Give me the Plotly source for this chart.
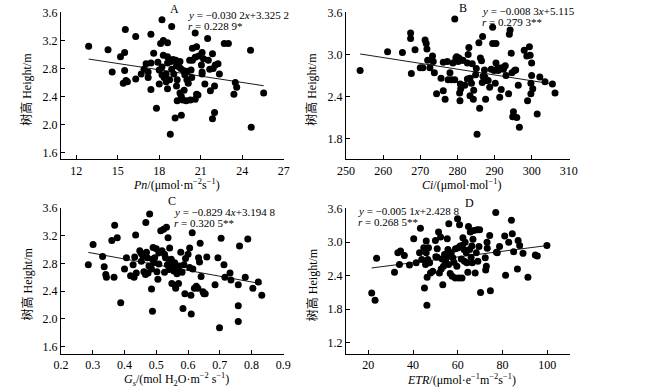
import plotly.graph_objects as go

# ---------------- data ----------------
pn_x = [12.9,14.3,14.6,15.2,15.5,15.55,15.5,15.6,15.4,15.7,16.3,16.3,16.7,16.9,17.05,17.2,17.2,17.4,17.4,17.4,
        17.6,17.8,17.9,18.0,18.0,18.1,18.2,18.2,18.2,18.3,18.3,18.35,18.5,18.6,18.6,18.5,18.6,18.6,18.75,18.8,
        18.85,18.9,18.9,19.0,19.05,19.15,19.2,19.25,19.3,19.3,19.4,19.5,19.5,19.6,19.6,19.7,19.8,19.85,20.0,19.95,
        20.05,20.1,20.2,20.25,20.3,20.35,20.4,20.4,20.6,20.6,20.7,20.6,20.7,20.8,20.85,21.05,21.1,21.1,21.1,21.2,
        21.3,21.5,21.55,21.65,21.7,21.85,21.85,22.0,22.0,21.9,22.05,22.25,22.35,22.7,23.0,23.5,23.6,23.4,24.6,24.65,
        25.55,19.25,19.55,19.75]
pn_y = [3.12,3.07,2.75,2.97,3.03,3.36,2.77,2.63,2.59,2.61,3.26,2.65,2.72,2.79,2.87,2.75,2.67,3.29,2.88,2.50,
        3.02,2.23,2.89,2.78,2.58,3.16,3.50,2.82,2.71,3.20,2.99,2.67,2.61,2.97,3.17,2.72,2.51,2.88,2.64,1.86,
        2.90,3.40,2.79,2.93,2.72,2.09,2.92,2.55,2.34,2.64,2.83,2.90,2.45,2.13,2.40,2.35,2.49,2.71,2.64,2.34,
        2.76,2.59,2.92,2.35,2.78,2.67,2.92,3.09,3.31,2.36,2.43,2.96,3.11,2.42,2.98,2.85,3.03,2.75,2.72,2.94,
        2.58,3.23,2.92,2.79,2.48,3.01,2.08,2.17,2.55,2.80,2.85,2.87,2.72,3.16,3.16,2.60,2.53,2.43,3.06,1.96,
        2.45,2.84,2.80,2.77]

ci_x = [253.8,261.2,265.2,267.4,267.4,267.6,268.6,270.0,270.7,271.3,271.6,271.8,272.0,272.6,273.3,273.5,273.8,274.4,275.6,276.2,
        276.2,276.7,277.3,277.5,278.0,278.4,278.8,279.3,279.3,279.8,280.2,280.4,280.6,280.7,280.8,281.2,281.5,282.0,282.7,282.7,
        282.9,283.1,283.4,283.4,283.8,284.0,284.3,284.4,284.9,285.1,285.3,285.8,286.0,286.2,286.5,286.7,286.8,286.9,287.3,287.4,
        287.6,287.7,288.3,288.7,289.1,289.5,289.5,289.9,290.2,290.4,290.4,290.9,291.0,291.4,291.8,292.0,292.4,292.9,293.1,293.8,
        294.0,294.2,294.5,294.7,294.9,295.1,295.4,295.7,296.0,296.4,296.7,298.0,298.7,298.9,299.4,299.6,299.8,299.8,300.0,300.0,
        300.3,301.5,302.2,303.6,305.6,306.3,279.6,280.9]
ci_y = [2.77,3.04,3.03,3.31,3.23,2.73,3.07,2.81,2.81,3.21,3.16,3.08,2.92,2.81,2.98,2.90,2.74,2.44,2.66,2.89,
        2.48,2.36,2.90,2.64,2.74,2.64,2.88,3.51,2.64,2.97,2.90,2.95,2.45,2.34,2.58,2.92,2.92,2.56,2.88,2.65,
        3.00,3.10,2.66,2.41,2.59,2.87,2.36,2.49,2.71,2.80,1.86,3.17,2.23,2.95,2.91,2.60,3.26,2.69,2.78,2.68,
        2.36,2.63,2.63,2.53,2.79,3.39,3.16,2.77,2.59,3.16,2.88,2.81,2.77,2.39,2.50,2.81,2.79,2.84,2.70,2.44,
        3.29,3.35,3.02,2.74,2.11,2.18,2.77,2.78,2.10,2.56,1.96,3.06,2.98,2.34,3.11,2.99,2.44,2.59,2.88,2.70,
        2.51,2.15,2.68,2.61,2.58,2.45,2.95,2.51]

gs_x = [0.286,0.301,0.331,0.336,0.341,0.343,0.360,0.369,0.367,0.377,0.388,0.400,0.406,0.419,0.427,0.430,0.432,0.435,0.437,0.448,
        0.453,0.453,0.458,0.461,0.466,0.467,0.469,0.472,0.474,0.479,0.477,0.485,0.485,0.488,0.490,0.492,0.495,0.488,0.500,0.502,
        0.505,0.508,0.508,0.514,0.518,0.523,0.526,0.526,0.532,0.529,0.535,0.537,0.540,0.542,0.542,0.547,0.549,0.553,0.555,0.558,
        0.560,0.561,0.565,0.568,0.570,0.573,0.577,0.581,0.584,0.587,0.590,0.592,0.600,0.605,0.605,0.609,0.610,0.613,0.615,0.620,
        0.626,0.631,0.633,0.636,0.638,0.641,0.647,0.650,0.654,0.659,0.685,0.694,0.699,0.704,0.713,0.716,0.732,0.735,0.758,0.758,
        0.758,0.762,0.780,0.788,0.804,0.821,0.832]
gs_y = [2.78,3.07,2.90,2.75,2.64,2.60,3.13,3.35,2.60,3.17,2.23,2.72,2.88,2.62,2.78,2.60,2.89,3.21,2.66,2.98,
        2.94,2.83,2.91,2.68,2.64,3.39,2.96,2.88,2.66,3.51,2.76,2.72,2.43,2.86,3.03,2.81,2.88,2.11,3.01,2.68,
        2.57,2.95,2.79,3.27,2.98,3.29,2.93,2.67,3.32,2.88,2.78,3.17,2.71,3.02,2.81,2.86,2.51,2.74,2.69,2.81,
        2.48,2.44,2.65,2.70,2.51,2.76,2.96,2.67,2.15,2.78,2.36,2.87,2.93,3.02,2.74,2.34,2.07,3.24,2.72,2.44,
        2.47,2.44,2.88,2.82,3.09,2.61,2.39,2.36,2.36,2.89,2.49,2.88,1.87,3.16,2.78,2.60,2.66,2.56,2.49,2.19,
        1.96,3.05,2.60,3.15,2.44,2.53,2.34]

etr_x = [21.5,23.0,23.7,31.7,33.2,33.9,34.4,36.1,38.4,40.3,41.4,42.9,43.3,43.9,44.8,45.1,45.6,45.9,45.9,46.2,
         46.3,46.6,46.9,47.4,47.8,48.8,50.0,50.8,50.8,51.4,51.8,52.3,52.6,53.0,53.3,53.6,54.1,54.5,54.8,55.3,
         55.6,55.9,56.0,56.3,56.6,57.1,57.5,57.8,58.3,58.9,59.0,59.6,59.9,60.2,60.5,60.8,61.1,61.6,61.9,62.0,
         62.3,62.8,63.0,63.3,63.8,64.1,64.5,64.8,65.3,65.6,66.0,66.3,66.5,66.8,67.2,67.8,68.3,68.7,69.0,69.5,
         69.8,70.2,72.3,72.5,72.8,73.1,73.2,74.3,74.6,77.0,77.3,77.7,78.7,81.0,81.4,82.8,84.0,84.4,85.0,86.7,
         87.0,87.7,89.2,91.4,94.7,95.6,99.9,50.2]
etr_y = [2.09,1.96,2.71,2.46,2.81,2.60,2.84,2.76,2.59,3.06,2.63,2.81,3.25,2.69,2.90,2.18,2.60,3.02,2.81,1.87,
         2.37,2.69,2.90,2.63,2.45,2.48,3.03,2.88,2.73,3.18,2.45,3.09,2.52,2.70,2.24,2.57,2.78,2.66,2.72,3.06,
         2.87,2.60,3.33,2.75,2.44,2.81,2.39,2.72,2.64,2.36,2.88,2.57,3.42,2.90,2.36,3.31,2.93,2.70,2.36,2.94,
         3.08,2.87,2.66,3.00,2.81,2.63,2.46,3.28,2.87,3.18,2.73,2.93,2.63,3.05,3.21,2.45,2.81,3.22,2.66,2.92,
         3.22,2.10,2.72,2.50,2.57,3.00,2.89,3.12,2.13,3.53,2.82,2.81,2.92,3.11,2.41,3.00,3.39,3.15,2.83,2.52,
         3.03,2.94,2.80,2.37,2.77,2.75,2.94,2.74]

# regression (slope, intercept) as drawn
fit_a = (-0.0302, 3.3252)
fit_b = (-0.0083, 5.115)
fit_c = (-0.8294, 3.1948)
fit_d = (0.0051, 2.4288)

eq_a = ["<i>y</i> = −0.030 2<i>x</i>+3.325 2", "<i>r</i> = 0.228 9*"]
eq_b = ["<i>y</i> = −0.008 3<i>x</i>+5.115", "<i>r</i> = 0.279 3**"]
eq_c = ["<i>y</i> = −0.829 4<i>x</i>+3.194 8", "<i>r</i> = 0.320 5**"]
eq_d = ["<i>y</i> = −0.005 1<i>x</i>+2.428 8", "<i>r</i> = 0.268 5**"]

xtitle = ["<i>Pn</i>/(μmol·m<sup>−2</sup>s<sup>−1</sup>)",
          "<i>Ci</i>/(μmol·mol<sup>−1</sup>)",
          "<i>G</i><sub><i>s</i></sub>/(mol H<sub>2</sub>O·m<sup>−2</sup> s<sup>−1</sup>)",
          "<i>ETR</i>/(μmol·e<sup>−1</sup>m<sup>−2</sup>s<sup>−1</sup>)"]
ytitle = "树高 Height/m"
letters = ["A", "B", "C", "D"]

# ---------------- figure ----------------
W, H = 672, 392
FONT = "Liberation Serif, Times New Roman, Noto Sans CJK SC, serif"

def px(x): return x / W
def py(y): return 1 - y / H

panels = [
    dict(x=pn_x, y=pn_y, fit=fit_a, eq=eq_a, xd=(61, 284), yd=(12.3, 159.3),
         xr=[10.9, 27.02], xt=[12, 15, 18, 21, 24, 27], xf=".0f",
         yr=[1.5, 3.605], yt=[1.6, 2.0, 2.4, 2.8, 3.2, 3.6],
         eqpos=(186, 15), letpos=(174, 9)),
    dict(x=ci_x, y=ci_y, fit=fit_b, eq=eq_b, xd=(346, 569.5), yd=(12.3, 159.3),
         xr=[250, 310.2], xt=[250, 260, 270, 280, 290, 300, 310], xf=".0f",
         yr=[1.5, 3.605], yt=[1.8, 2.4, 3.0, 3.6],
         eqpos=(480, 11), letpos=(463, 8)),
    dict(x=gs_x, y=gs_y, fit=fit_c, eq=eq_c, xd=(61, 284), yd=(207.5, 353.5),
         xr=[0.2, 0.902], xt=[0.2, 0.3, 0.4, 0.5, 0.6, 0.7, 0.8, 0.9], xf=".1f",
         yr=[1.5, 3.605], yt=[1.6, 2.0, 2.4, 2.8, 3.2, 3.6],
         eqpos=(172, 212), letpos=(172, 201)),
    dict(x=etr_x, y=etr_y, fit=fit_d, eq=eq_d, xd=(346, 569.5), yd=(208.3, 354),
         xr=[10, 110], xt=[20, 40, 60, 80, 100], xf=".0f",
         yr=[1.0, 3.605], yt=[1.2, 1.8, 2.4, 3.0, 3.6],
         eqpos=(356, 211), letpos=(469, 203)),
]

fig = go.Figure()
annotations = []
layout = {}
for i, p in enumerate(panels):
    n = "" if i == 0 else str(i + 1)
    xa, ya = "x" + n, "y" + n
    fig.add_trace(go.Scatter(x=p["x"], y=p["y"], mode="markers", xaxis=xa, yaxis=ya,
                             marker=dict(color="black", size=7), showlegend=False,
                             hoverinfo="skip"))
    a, b = p["fit"]
    x0, x1 = min(p["x"]), max(p["x"])
    fig.add_trace(go.Scatter(x=[x0, x1], y=[a * x0 + b, a * x1 + b], mode="lines",
                             xaxis=xa, yaxis=ya, line=dict(color="black", width=0.9),
                             showlegend=False, hoverinfo="skip"))
    common = dict(showline=True, linecolor="black", linewidth=1, ticks="inside",
                  ticklen=4, tickcolor="black", tickwidth=1, showgrid=False,
                  zeroline=False, mirror=False, automargin=False,
                  tickfont=dict(family=FONT, size=12, color="black"))
    layout["xaxis" + n] = dict(common, domain=[px(p["xd"][0]), px(p["xd"][1])],
                               range=p["xr"], tickmode="array", tickvals=p["xt"],
                               tickformat=p["xf"], anchor=ya)
    layout["yaxis" + n] = dict(common, domain=[py(p["yd"][1]), py(p["yd"][0])],
                               range=p["yr"], tickmode="array", tickvals=p["yt"],
                               tickformat=".1f", anchor=xa)
    # equation text
    ex, ey = p["eqpos"]
    for k, line in enumerate(p["eq"]):
        annotations.append(dict(text=line, x=px(ex), y=py(ey + 11 * k), xref="paper",
                                yref="paper", xanchor="left", yanchor="middle",
                                showarrow=False, font=dict(family=FONT, size=11, color="black")))
    lx, ly = p["letpos"]
    annotations.append(dict(text=letters[i], x=px(lx), y=py(ly), xref="paper", yref="paper",
                            xanchor="center", yanchor="middle", showarrow=False,
                            font=dict(family=FONT, size=12, color="black")))
    # x title
    xc = (p["xd"][0] + p["xd"][1]) / 2 + 4
    xty = 185 if i < 2 else 379
    annotations.append(dict(text=xtitle[i], x=px(xc), y=py(xty), xref="paper", yref="paper",
                            xanchor="center", yanchor="middle", showarrow=False,
                            font=dict(family=FONT, size=12, color="black")))
    # y title
    ytx = p["xd"][0] - 34
    ytc = (p["yd"][0] + p["yd"][1]) / 2 + 4
    annotations.append(dict(text=ytitle, x=px(ytx), y=py(ytc), xref="paper", yref="paper",
                            xanchor="center", yanchor="middle", textangle=-90, showarrow=False,
                            font=dict(family=FONT, size=12, color="black")))

fig.update_layout(**layout)
fig.update_layout(width=W, height=H, margin=dict(l=0, r=0, t=0, b=0, autoexpand=False),
                  paper_bgcolor="white", plot_bgcolor="white",
                  annotations=annotations, font=dict(family=FONT, color="black"))
fig.write_html("out.html", config={"displayModeBar": False},
               post_script="document.body.style.margin='0';")
